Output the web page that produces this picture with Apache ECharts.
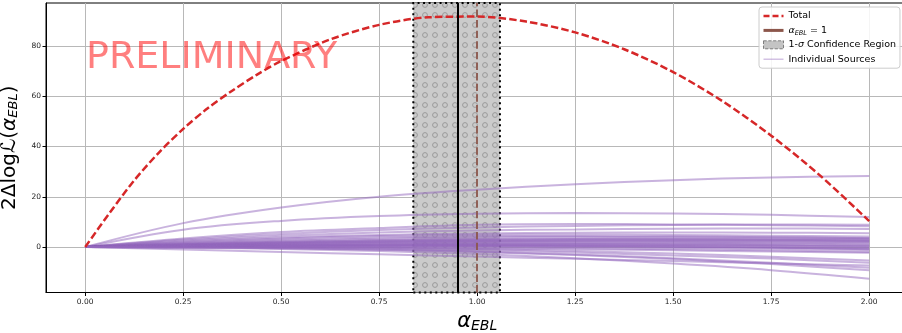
<!DOCTYPE html>
<html>
<head>
<meta charset="utf-8">
<script src="https://cdn.jsdelivr.net/npm/echarts@6/dist/echarts.min.js"></script>
<style>
  html, body { margin: 0; padding: 0; background: #fff; }
  #chart { width: 902px; height: 333px; }
</style>
</head>
<body>
<div id="chart"></div>
<script>
// total likelihood profile
const totalAlpha = [0, 0.0625, 0.125, 0.1875, 0.25, 0.3125, 0.375, 0.4375, 0.5,
  0.625, 0.75, 0.875, 1.0, 1.125, 1.25, 1.375, 1.5, 1.625, 1.75, 1.875, 2.0];
const totalValues = [0, 13.6, 26.5, 37.5, 47, 55.2, 62.2, 68.5, 74,
  82.6, 88.4, 91.4, 91.7, 89.7, 85.4, 78.7, 69.6, 58.1, 44.3, 28.4, 10.3];

// individual sources, sampled at the same alphas
const sourceAlpha = [0, 0.25, 0.5, 0.75, 1.0, 1.25, 1.5, 1.75, 2.0];
const sourceCurves = [
  [0, 9.5, 15.7, 20.0, 22.8, 25.0, 26.6, 27.7, 28.3],
  [0, 6.9, 10.4, 12.3, 13.2, 13.5, 13.3, 12.8, 11.9],
  [0, 3.4, 6.0, 7.6, 8.9, 9.2, 9.0, 8.7, 8.3],
  [0, 3.0, 5.2, 6.8, 7.8, 8.4, 8.8, 9.0, 8.9],
  [0, 2.6, 4.5, 5.8, 6.6, 7.0, 7.3, 7.4, 7.2],
  [0, 2.2, 3.8, 4.8, 5.4, 5.7, 5.8, 5.7, 5.5],
  [0, 1.9, 3.4, 4.4, 4.9, 5.0, 4.8, 4.5, 4.2],
  [0, 1.6, 2.9, 3.8, 4.3, 4.4, 4.2, 3.9, 3.5],
  [0, 1.4, 2.5, 3.3, 3.8, 4.0, 4.0, 3.8, 3.6],
  [0, 1.2, 2.1, 2.8, 3.2, 3.3, 3.2, 2.9, 2.5],
  [0, 1.1, 2.0, 2.6, 3.0, 3.2, 3.3, 3.3, 3.2],
  [0, 1.0, 1.8, 2.4, 2.8, 3.0, 3.0, 2.9, 2.8],
  [0, 0.9, 1.6, 2.1, 2.4, 2.5, 2.4, 2.2, 1.9],
  [0, 0.8, 1.5, 2.0, 2.3, 2.5, 2.6, 2.6, 2.5],
  [0, 0.8, 1.4, 1.8, 2.1, 2.3, 2.3, 2.2, 2.1],
  [0, 0.7, 1.2, 1.6, 1.8, 1.8, 1.7, 1.4, 1.0],
  [0, 0.6, 1.0, 1.3, 1.5, 1.6, 1.6, 1.5, 1.4],
  [0, 0.5, 0.9, 1.1, 1.2, 1.2, 1.0, 0.7, 0.3],
  [0, 0.4, 0.7, 0.9, 1.0, 1.0, 0.9, 0.8, 0.6],
  [0, 0.3, 0.6, 0.8, 0.9, 0.9, 0.8, 0.5, 0.2],
  [0, 0.3, 0.5, 0.6, 0.6, 0.5, 0.3, 0.0, -0.4],
  [0, 0.4, 0.6, 0.7, 0.6, 0.4, 0.1, -0.3, -0.9],
  [0, 0.2, 0.3, 0.4, 0.4, 0.3, 0.1, -0.2, -0.6],
  [0, 0.2, 0.3, 0.3, 0.2, 0.0, -0.3, -0.7, -1.2],
  [0, 0.1, 0.1, 0.0, -0.2, -0.5, -0.9, -1.4, -2.0],
  [0, 0.0, -0.1, -0.3, -0.6, -0.9, -1.3, -1.8, -2.3],
  [0, 0.1, 0.0, -0.3, -0.8, -1.6, -2.6, -3.9, -5.4],
  [0, -0.1, -0.3, -0.7, -1.3, -2.2, -3.4, -4.6, -6.3],
  [0, -1.0, -2.0, -2.9, -3.8, -4.7, -5.6, -6.5, -7.4],
  [0, -0.2, -0.5, -1.0, -1.8, -3.0, -4.5, -6.3, -8.3],
  [0, -0.2, -0.5, -1.1, -2.0, -3.2, -4.8, -6.8, -9.2],
  [0, -0.3, -0.8, -1.6, -2.8, -4.5, -6.6, -9.2, -12.6]
];

const xTicks = [0, 0.25, 0.5, 0.75, 1.0, 1.25, 1.5, 1.75, 2.0];
const yTicks = [0, 20, 40, 60, 80];

// confidence region and reference lines
const ciLow = 0.837;
const ciHigh = 1.058;
const bestFit = 0.95;
const referenceAlpha = 1.0;

const FONT = 'DejaVu Sans';
const PURPLE = '#9467bd';
const RED = '#d62728';
const BROWN = '#8c564b';

// gray fill with small hollow circles (hatch 'o')
function makeHatch() {
  const c = document.createElement('canvas');
  c.width = 10;
  c.height = 10;
  const ctx = c.getContext('2d');
  ctx.fillStyle = '#cbcbcb';
  ctx.fillRect(0, 0, 10, 10);
  ctx.strokeStyle = '#9a9a9a';
  ctx.lineWidth = 1;
  ctx.beginPath();
  ctx.arc(5, 5, 2.4, 0, Math.PI * 2);
  ctx.stroke();
  return c;
}

const chart = echarts.init(document.getElementById('chart'), null, { renderer: 'canvas' });

const sourceSeries = sourceCurves.map(curve => ({
  name: 'Individual Sources',
  type: 'line',
  data: curve.map((v, i) => [sourceAlpha[i], v]),
  smooth: 0.35,
  showSymbol: false,
  symbol: 'none',
  silent: true,
  z: 3,
  itemStyle: { color: PURPLE },
  lineStyle: { color: PURPLE, width: 2, opacity: 0.5 }
}));

const option = {
  animation: false,
  backgroundColor: '#fff',
  textStyle: { fontFamily: FONT },
  grid: {
    left: 46,
    top: 3,
    width: 862.4,
    height: 289.5,
    outerBoundsMode: 'none',
    containLabel: false,
    show: true,
    borderColor: '#000',
    borderWidth: 1
  },
  legend: {
    orient: 'vertical',
    left: 759,
    top: 7,
    padding: [3, 4, 3, 3],
    itemWidth: 20,
    itemHeight: 8,
    itemGap: 2.4,
    backgroundColor: 'rgba(255,255,255,0.85)',
    borderColor: '#cccccc',
    borderWidth: 1,
    borderRadius: 3,
    selectedMode: false,
    itemStyle: { opacity: 0 },
    textStyle: {
      fontFamily: FONT,
      fontSize: 9.5,
      color: '#000',
      lineHeight: 12,
      rich: {
        a: { fontFamily: FONT, fontStyle: 'italic', fontSize: 9.5 },
        s: { fontFamily: FONT, fontStyle: 'italic', fontSize: 6.5, padding: [5, 0, 0, 0] },
        n: { fontFamily: FONT, fontSize: 9.5 },
        i: { fontFamily: FONT, fontStyle: 'italic', fontSize: 9.5 }
      }
    },
    formatter: name => {
      if (name === 'α_EBL = 1') return '{a|α}{s|EBL}{n| = 1}';
      if (name === '1-σ Confidence Region') return '{n|1-}{i|σ}{n| Confidence Region}';
      return name;
    },
    data: [
      { name: 'Total', lineStyle: { color: RED, width: 2.5, type: [6, 3], opacity: 1 } },
      { name: 'α_EBL = 1', lineStyle: { color: BROWN, width: 3, type: 'solid', opacity: 1 } },
      {
        name: '1-σ Confidence Region',
        icon: 'rect',
        itemStyle: { color: '#c4c4c4', borderColor: '#666', borderWidth: 0.8, borderType: 'dashed', opacity: 1 }
      },
      { name: 'Individual Sources', lineStyle: { color: PURPLE, width: 1.2, opacity: 0.5 } }
    ]
  },
  graphic: [{
    type: 'text',
    x: 86,
    y: 58,
    silent: true,
    z: 10,
    style: {
      text: 'PRELIMINARY',
      font: '38px "DejaVu Sans"',
      fill: 'rgba(255,0,0,0.5)',
      verticalAlign: 'middle'
    }
  }],
  xAxis: {
    type: 'value',
    min: -0.1,
    max: 2.1,
    name: '{a|α}{s|EBL}',
    nameLocation: 'middle',
    nameGap: 15,
    nameTextStyle: {
      color: '#000',
      rich: {
        a: { fontFamily: FONT, fontStyle: 'italic', fontSize: 21 },
        s: { fontFamily: FONT, fontStyle: 'italic', fontSize: 14, padding: [9, 0, 0, 0] }
      }
    },
    axisLine: { onZero: false, lineStyle: { color: '#000', width: 1 } },
    axisTick: { show: true, length: 3.5, customValues: xTicks, lineStyle: { color: '#000' } },
    axisLabel: {
      customValues: xTicks,
      formatter: v => v.toFixed(2),
      fontSize: 7.5,
      color: '#222',
      margin: 6
    },
    splitLine: { show: true, lineStyle: { color: '#b8b8b8', width: 1 } }
  },
  yAxis: {
    type: 'value',
    min: -18.1,
    max: 97.1,
    name: '{n|2Δlog}{c|ℒ}{n|(}{a|α}{s|EBL}{n|)}',
    nameLocation: 'middle',
    nameRotate: 90,
    nameGap: 19,
    nameTextStyle: {
      color: '#000',
      rich: {
        n: { fontFamily: FONT, fontSize: 20 },
        c: { fontFamily: FONT, fontSize: 20 },
        a: { fontFamily: FONT, fontStyle: 'italic', fontSize: 20 },
        s: { fontFamily: FONT, fontStyle: 'italic', fontSize: 13, padding: [9, 0, 0, 0] }
      }
    },
    axisLine: { show: true, onZero: false, lineStyle: { color: '#000', width: 1 } },
    axisTick: { show: true, length: 3.5, customValues: yTicks, lineStyle: { color: '#000' } },
    axisLabel: {
      customValues: yTicks,
      fontSize: 7.5,
      color: '#222',
      margin: 5
    },
    splitLine: { show: true, lineStyle: { color: '#b8b8b8', width: 1 } }
  },
  series: [
    {
      name: '1-σ Confidence Region',
      type: 'line',
      data: [],
      z: 1,
      silent: true,
      itemStyle: { color: '#c4c4c4' },
      markArea: {
        silent: true,
        itemStyle: {
          color: { image: makeHatch(), repeat: 'repeat' },
          borderColor: '#000',
          borderWidth: 2,
          borderType: [2, 3.5]
        },
        data: [[{ xAxis: ciLow }, { xAxis: ciHigh }]]
      },
      markLine: {
        silent: true,
        symbol: ['none', 'none'],
        label: { show: false },
        lineStyle: { color: '#000', width: 2, type: 'solid' },
        data: [{ xAxis: bestFit }]
      }
    },
    {
      name: 'α_EBL = 1',
      type: 'line',
      data: [],
      z: 2,
      silent: true,
      lineStyle: { color: BROWN, width: 3 },
      itemStyle: { color: BROWN },
      markLine: {
        silent: true,
        symbol: ['none', 'none'],
        label: { show: false },
        lineStyle: { color: BROWN, width: 2, type: [7.4, 3.2], opacity: 0.9 },
        data: [{ xAxis: referenceAlpha }]
      }
    },
    ...sourceSeries,
    {
      name: 'Total',
      type: 'line',
      data: totalValues.map((v, i) => [totalAlpha[i], v]),
      smooth: 0.3,
      showSymbol: false,
      symbol: 'none',
      z: 4,
      itemStyle: { color: RED },
      lineStyle: { color: RED, width: 2.5, type: [7.4, 3.2] }
    }
  ]
};

chart.setOption(option);
</script>
</body>
</html>
